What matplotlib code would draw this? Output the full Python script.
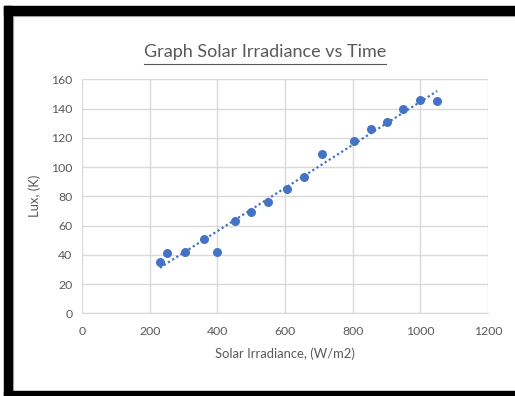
import numpy as np
import matplotlib
matplotlib.use('Agg')
import matplotlib.pyplot as plt
from matplotlib.patches import Rectangle
from matplotlib.lines import Line2D

irradiance = [230, 250, 305, 362, 400, 453, 500, 550, 605, 655, 710, 803, 855, 900, 950, 1000, 1050]
lux = [35, 41, 42, 51, 42, 63, 69, 76, 85, 93, 109, 118, 126, 131, 140, 146, 145]
x_ticks = [0, 200, 400, 600, 800, 1000, 1200]
y_ticks = [0, 20, 40, 60, 80, 100, 120, 140, 160]

blue = '#4472C4'
grey_text = '#595959'
grid_col = '#D9D9D9'

plt.rcParams['font.family'] = ['Lato', 'DejaVu Sans']

W, H = 515, 396
fig = plt.figure(figsize=(W / 100, H / 100), dpi=100)

# black frame round the chart (top, left, bottom)
def px_rect(x0, y0, x1, y1, color):
    fig.patches.append(Rectangle((x0 / W, 1 - y1 / H), (x1 - x0) / W, (y1 - y0) / H,
                                 transform=fig.transFigure, color=color, zorder=0))

px_rect(12, 15, W, 16, '#C8C8C8')
px_rect(12, 15, 13, 391, '#C8C8C8')
px_rect(4, 6, W, 15, 'black')
px_rect(4, 6, 12, H, 'black')
px_rect(4, 391, W, H, 'black')

ax = fig.add_axes([82 / W, 1 - 313.3 / H, 406 / W, 234 / H])
ax.set_xlim(0, 1200)
ax.set_ylim(0, 160)
ax.set_xticks(x_ticks)
ax.set_yticks(y_ticks)
ax.grid(True, color=grid_col, linewidth=1)
ax.set_axisbelow(True)
for side in ['top', 'right', 'left']:
    ax.spines[side].set_visible(False)
ax.spines['bottom'].set_color(grid_col)
ax.tick_params(length=0, colors=grey_text, labelsize=8.8, pad=9)
ax.tick_params(axis='y', pad=7)

ax.scatter(irradiance, lux, s=42, color=blue, zorder=3, linewidths=0)

# linear trendline over the data range
k, b = np.polyfit(irradiance, lux, 1)
xs = np.array([min(irradiance), max(irradiance)])
ax.plot(xs, k * xs + b, color=blue, linestyle=(0, (1, 1.2)), linewidth=1.6, zorder=2)

ax.set_xlabel('Solar Irradiance, (W/m2)', color=grey_text, fontsize=9.4, labelpad=8)
ax.set_ylabel('Lux, (K)', color=grey_text, fontsize=9.4, labelpad=7)

fig.text(265 / W, 1 - 57 / H, 'Graph Solar Irradiance vs Time', ha='center', va='baseline',
         color=grey_text, fontsize=13)
uy = 1 - 64 / H
fig.lines.append(Line2D([144 / W, 386 / W], [uy, uy], transform=fig.transFigure,
                        color=grey_text, linewidth=0.8))

fig.savefig('out.png', dpi=100, facecolor='white')
